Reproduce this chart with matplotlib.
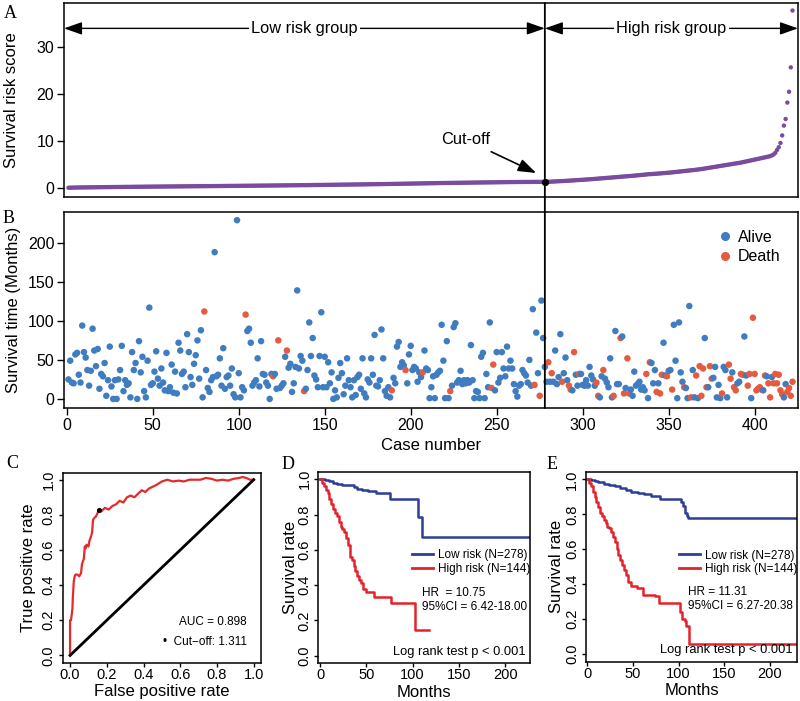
import matplotlib
matplotlib.use("Agg")
import matplotlib.pyplot as plt
from matplotlib.lines import Line2D
from matplotlib.patches import ConnectionPatch
from matplotlib.ticker import FormatStrFormatter

plt.rcParams["font.family"] = ["Liberation Sans", "DejaVu Sans"]

CUTOFF_CASE = 278
CUTOFF_SCORE = 1.311

# panel A: sorted risk score, cases 1..422
risk_score = [
    0.07, 0.08, 0.09, 0.10, 0.11, 0.11, 0.12, 0.13, 0.13, 0.14, 0.14, 0.15, 0.15, 0.16, 0.16, 0.17, 0.17, 0.18, 0.18,
    0.19, 0.19, 0.20, 0.20, 0.21, 0.21, 0.21, 0.22, 0.22, 0.23, 0.23, 0.23, 0.24, 0.24, 0.25, 0.25, 0.25, 0.26, 0.26, 0.27,
    0.27, 0.27, 0.28, 0.28, 0.28, 0.29, 0.29, 0.30, 0.30, 0.30, 0.31, 0.31, 0.31, 0.32, 0.32, 0.32, 0.33, 0.33, 0.33, 0.34,
    0.34, 0.34, 0.35, 0.35, 0.35, 0.36, 0.36, 0.36, 0.37, 0.37, 0.37, 0.38, 0.38, 0.38, 0.39, 0.39, 0.39, 0.40, 0.40, 0.40,
    0.41, 0.41, 0.41, 0.42, 0.42, 0.42, 0.43, 0.43, 0.43, 0.44, 0.44, 0.44, 0.45, 0.45, 0.45, 0.46, 0.46, 0.46, 0.47, 0.47,
    0.47, 0.48, 0.48, 0.48, 0.49, 0.49, 0.49, 0.50, 0.50, 0.50, 0.51, 0.51, 0.52, 0.52, 0.52, 0.53, 0.53, 0.53, 0.54, 0.54,
    0.55, 0.55, 0.55, 0.56, 0.56, 0.57, 0.57, 0.57, 0.58, 0.58, 0.59, 0.59, 0.59, 0.60, 0.60, 0.61, 0.61, 0.62, 0.62, 0.62,
    0.63, 0.63, 0.64, 0.64, 0.65, 0.65, 0.66, 0.66, 0.66, 0.67, 0.67, 0.68, 0.68, 0.69, 0.69, 0.70, 0.70, 0.71, 0.71, 0.72,
    0.72, 0.73, 0.73, 0.74, 0.74, 0.75, 0.75, 0.76, 0.76, 0.77, 0.77, 0.78, 0.78, 0.79, 0.79, 0.80, 0.81, 0.81, 0.82, 0.82,
    0.83, 0.83, 0.84, 0.84, 0.85, 0.86, 0.86, 0.87, 0.87, 0.88, 0.89, 0.89, 0.90, 0.90, 0.91, 0.92, 0.92, 0.93, 0.94, 0.94,
    0.95, 0.96, 0.96, 0.97, 0.98, 0.98, 0.99, 1.00, 1.00, 1.01, 1.02, 1.02, 1.03, 1.04, 1.04, 1.05, 1.06, 1.06, 1.07, 1.08,
    1.08, 1.09, 1.09, 1.10, 1.10, 1.11, 1.11, 1.12, 1.12, 1.13, 1.13, 1.14, 1.14, 1.15, 1.15, 1.16, 1.16, 1.17, 1.17, 1.18,
    1.18, 1.19, 1.19, 1.20, 1.20, 1.21, 1.21, 1.22, 1.22, 1.23, 1.23, 1.24, 1.24, 1.25, 1.25, 1.26, 1.26, 1.27, 1.27, 1.28,
    1.28, 1.28, 1.29, 1.29, 1.29, 1.29, 1.30, 1.30, 1.30, 1.30, 1.30, 1.31, 1.31, 1.31, 1.31, 1.31, 1.31, 1.31, 1.311,
    # high risk group
    1.32, 1.33, 1.35, 1.37, 1.39, 1.41, 1.43, 1.45, 1.47, 1.49, 1.51, 1.53, 1.55, 1.57, 1.60, 1.62, 1.64, 1.67, 1.69, 1.72, 1.74,
    1.77, 1.79, 1.82, 1.84, 1.87, 1.90, 1.92, 1.95, 1.98, 2.01, 2.04, 2.07, 2.10, 2.13, 2.16, 2.19, 2.22, 2.25, 2.28, 2.31,
    2.34, 2.37, 2.40, 2.43, 2.46, 2.49, 2.52, 2.55, 2.58, 2.61, 2.64, 2.68, 2.71, 2.75, 2.78, 2.82, 2.86, 2.90, 2.94, 2.96,
    2.98, 3.00, 3.03, 3.06, 3.09, 3.12, 3.15, 3.18, 3.21, 3.24, 3.27, 3.30, 3.34, 3.38, 3.42, 3.46, 3.50, 3.54, 3.58, 3.62,
    3.66, 3.70, 3.74, 3.78, 3.82, 3.86, 3.90, 3.95, 4.00, 4.05, 4.10, 4.16, 4.22, 4.28, 4.34, 4.40, 4.46, 4.52, 4.58, 4.64,
    4.70, 4.76, 4.82, 4.88, 4.94, 5.00, 5.06, 5.12, 5.18, 5.24, 5.30, 5.36, 5.42, 5.50, 5.58, 5.66, 5.74, 5.82, 5.90, 5.98,
    6.06, 6.14, 6.22, 6.30, 6.38, 6.46, 6.54, 6.62, 6.70, 6.80, 6.95, 7.15, 7.50, 8.10, 8.70,
    9.60, 11.2, 13.3, 14.7, 18.2, 20.5, 25.7, 37.8,
]

# panel B: survival time (months) in the same case order
low_time = [
    25, 49, 21, 20, 57, 59, 31, 21, 94, 60,
    53, 37, 17, 36, 90, 62, 42, 64, 13, 32,
    29, 46, 4, 24, 67, 16, 0, 24, 0, 25,
    37, 68, 10, 24, 18, 20, 2, 60, 37, 46,
    0, 74, 34, 54, 10, 2, 49, 117, 18, 20,
    35, 61, 26, 17, 39, 21, 11, 59, 10, 15,
    44, 8, 35, 7, 72, 62, 32, 35, 15, 83,
    60, 28, 18, 45, 56, 75, 26, 88, 2, 112,
    37, 14, 9, 24, 28, 188, 29, 31, 52, 17,
    65, 13, 28, 30, 17, 39, 6, 2, 229, 33,
    2, 15, 11, 108, 87, 90, 72, 17, 21, 24,
    52, 16, 74, 32, 31, 21, 17, 0, 32, 29,
    32, 13, 75, 14, 17, 20, 54, 62, 40, 45,
    9, 20, 41, 139, 39, 55, 49, 10, 13, 37,
    98, 55, 78, 30, 25, 15, 55, 111, 15, 54,
    15, 47, 20, 34, 0, 11, 2, 27, 46, 33,
    6, 17, 52, 24, 15, 2, 24, 5, 28, 31,
    13, 52, 7, 2, 25, 21, 52, 31, 82, 17,
    16, 24, 89, 52, 10, 4, 15, 2, 11, 27,
    20, 67, 73, 41, 47, 43, 37, 20, 57, 68,
    37, 41, 39, 22, 34, 28, 34, 62, 39, 37,
    1, 15, 29, 1, 31, 34, 36, 95, 49, 1,
    74, 1, 10, 17, 92, 97, 21, 24, 36, 19,
    24, 20, 24, 21, 69, 24, 1, 10, 9, 1,
    54, 59, 1, 32, 15, 98, 14, 44, 11, 60,
    21, 27, 60, 39, 29, 67, 39, 49, 39, 19,
    10, 3, 17, 19, 37, 33, 30, 21, 50, 17,
    115, 18, 85, 33, 4, 126, 78, 41,
]
high_time = [
    22, 47, 22, 33, 22, 62, 19, 28, 83, 22,
    33, 53, 24, 17, 12, 11, 60, 31, 17, 32,
    32, 18, 17, 24, 17, 41, 30, 25, 17, 21,
    4, 2, 29, 37, 26, 21, 15, 52, 2, 4,
    87, 19, 19, 78, 80, 7, 14, 52, 7, 12,
    4, 35, 17, 19, 22, 12, 15, 11, 32, 1,
    47, 46, 20, 37, 9, 20, 7, 31, 72, 30,
    29, 36, 37, 12, 95, 49, 1, 98, 34, 22,
    15, 14, 1, 119, 2, 37, 2, 30, 1, 42,
    4, 39, 78, 15, 15, 42, 26, 27, 41, 2,
    18, 1, 7, 41, 37, 2, 44, 26, 34, 15,
    11, 20, 22, 32, 31, 80, 30, 17, 32, 1,
    104, 32, 11, 13, 15, 12, 11, 30, 29, 20,
    2, 28, 20, 32, 20, 31, 11, 6, 2, 19,
    9, 14, 4, 22,
]
death_cases = [
    80, 104, 120, 123, 128, 138, 189, 197, 207, 223, 247, 248, 272, 275,
    280, 282, 288, 292, 293, 295, 298, 308, 309, 312, 318, 322, 324, 326, 327,
    337, 339, 343, 345, 346, 349, 352, 359, 363, 366, 368, 369, 370, 372, 374,
    375, 381, 385, 386, 388, 389, 392, 393, 396, 397, 399, 400, 401, 402, 403,
    404, 406, 408, 409, 411, 412, 413, 414, 415, 416, 419, 420, 421, 422,
]

# panel C: ROC curve
roc_fpr = [0, 0, 0.005, 0.01, 0.013, 0.015, 0.018, 0.02, 0.025, 0.03,
           0.04, 0.05, 0.06, 0.065, 0.075, 0.08, 0.085, 0.09, 0.10, 0.105,
           0.115, 0.12, 0.125, 0.13, 0.14, 0.15, 0.155, 0.17, 0.19, 0.21,
           0.23, 0.25, 0.27, 0.29, 0.31, 0.33, 0.35, 0.37, 0.39, 0.41,
           0.43, 0.45, 0.47, 0.50, 0.53, 0.56, 0.59, 0.62, 0.65, 0.68,
           0.71, 0.74, 0.77, 0.80, 0.83, 0.86, 0.89, 0.92, 0.94, 0.96, 0.98, 1.0]
roc_tpr = [0, 0.20, 0.20, 0.24, 0.27, 0.33, 0.38, 0.42, 0.45, 0.46,
           0.46, 0.45, 0.47, 0.52, 0.55, 0.62, 0.61, 0.63, 0.62, 0.65,
           0.68, 0.70, 0.77, 0.78, 0.79, 0.81, 0.83, 0.82, 0.84, 0.83,
           0.85, 0.86, 0.88, 0.87, 0.90, 0.91, 0.90, 0.92, 0.94, 0.93,
           0.95, 0.96, 0.97, 0.99, 1.00, 0.99, 0.995, 0.99, 1.0, 1.0,
           1.0, 1.01, 1.005, 0.995, 1.0, 0.995, 1.005, 1.01, 1.015, 1.01, 1.0, 1.0]
roc_cut = (0.155, 0.83)

# panel D: Kaplan-Meier, training set
d_low_t = [0, 5, 9, 14, 18, 24, 30, 36, 40, 45, 52, 60, 75, 106, 110, 227]
d_low_s = [1.0, 0.995, 0.99, 0.98, 0.975, 0.97, 0.965, 0.955, 0.945, 0.94, 0.935, 0.92, 0.887, 0.785, 0.675, 0.675]
d_high_t = [0, 2, 4, 6, 8, 10, 12, 14, 16, 18, 20, 22, 24, 26, 28, 30, 32, 34, 36, 38,
            40, 42, 44, 46, 50, 58, 76, 102, 118]
d_high_s = [1.0, 0.98, 0.96, 0.94, 0.92, 0.89, 0.86, 0.83, 0.81, 0.79, 0.76, 0.73, 0.72, 0.70, 0.67,
            0.63, 0.56, 0.54, 0.51, 0.48, 0.45, 0.43, 0.41, 0.38, 0.36, 0.33, 0.30, 0.147, 0.147]

# panel E: Kaplan-Meier, second set
e_low_t = [0, 4, 8, 12, 18, 24, 30, 36, 42, 48, 55, 62, 70, 80, 103, 105, 107, 109, 110, 229]
e_low_s = [1.0, 0.995, 0.99, 0.985, 0.975, 0.97, 0.96, 0.95, 0.94, 0.93, 0.92, 0.915, 0.905, 0.89,
           0.87, 0.85, 0.81, 0.79, 0.782, 0.782]
e_high_t = [0, 2, 4, 6, 8, 10, 12, 14, 16, 18, 20, 22, 24, 26, 28, 30, 32, 34, 36, 38,
            40, 42, 44, 48, 54, 61, 74, 78, 102, 104, 107, 108, 111, 229]
e_high_s = [1.0, 0.98, 0.96, 0.93, 0.90, 0.87, 0.84, 0.81, 0.79, 0.77, 0.75, 0.73, 0.72, 0.70, 0.67,
            0.64, 0.60, 0.57, 0.54, 0.51, 0.48, 0.45, 0.41, 0.39, 0.38, 0.34, 0.33, 0.29, 0.24,
            0.20, 0.19, 0.16, 0.06, 0.06]

PURPLE = "#7a4c9f"
ALIVE = "#3f7dc0"
DEATH = "#e65b3f"
ROC_RED = "#e42a2a"
KM_BLUE = "#2c3f95"
KM_RED = "#e3222b"

assert len(risk_score) == len(low_time) + len(high_time) == 422


def style_small(ax, xticks, yticks, xfmt=None):
    ax.set_xticks(xticks)
    ax.set_yticks(yticks)
    ax.yaxis.set_major_formatter(FormatStrFormatter("%.1f"))
    if xfmt:
        ax.xaxis.set_major_formatter(FormatStrFormatter(xfmt))
    ax.tick_params(direction="out", length=3, width=1, labelsize=10.5)
    ax.tick_params(axis="x", pad=0.5)
    ax.tick_params(axis="y", pad=2)
    for label in ax.get_yticklabels():
        label.set_rotation(90)
        label.set_va("center")
    for spine in ax.spines.values():
        spine.set_linewidth(1.1)


def draw_km(ax, curves, hr_lines, text_x, legend_y):
    for t, s, color in curves:
        ax.plot(t, s, drawstyle="steps-post", color=color, lw=1.8)
    handles = [Line2D([], [], color=KM_BLUE, lw=2), Line2D([], [], color=KM_RED, lw=2)]
    ax.legend(handles, ["Low risk (N=278)", "High risk (N=144)"], loc="center left",
              bbox_to_anchor=(0.44, legend_y), frameon=False, fontsize=8.5, handlelength=1.8,
              handletextpad=0.4, labelspacing=0.15, borderpad=0, borderaxespad=0)
    ax.text(text_x, 0.365, hr_lines[0], transform=ax.transAxes, fontsize=8.5, va="center")
    ax.text(text_x, 0.295, hr_lines[1], transform=ax.transAxes, fontsize=8.5, va="center")
    ax.text(0.98, 0.06, "Log rank test p < 0.001", transform=ax.transAxes, fontsize=9.3,
            va="center", ha="right")
    style_small(ax, [0, 50, 100, 150, 200], [0, 0.2, 0.4, 0.6, 0.8, 1.0])
    ax.set_xlabel("Months", fontsize=12, va="center")
    ax.set_ylabel("Survival rate", fontsize=12, va="center")
    ax.xaxis.set_label_coords(0.5, -0.15)


fig = plt.figure(figsize=(8, 7.01), dpi=100)

n_cases = len(risk_score)
cases = list(range(1, n_cases + 1))
survival = low_time + high_time
point_colors = [DEATH if c in death_cases else ALIVE for c in cases]
xlim_ab = (-1.6, 425.2)

# ---- A: risk score
ax_a = fig.add_axes([0.08, 0.719, 0.9175, 0.2767])
ax_a.scatter(cases, risk_score, s=10, color=PURPLE, edgecolors="none")
ax_a.scatter([CUTOFF_CASE], [CUTOFF_SCORE], s=18, color="black", zorder=4)
ax_a.set_xlim(*xlim_ab)
ax_a.set_ylim(-1.9, 39.4)
ax_a.set_xticks([])
ax_a.set_yticks([0, 10, 20, 30])
ax_a.tick_params(axis="y", direction="out", length=5, width=1, labelsize=11.5, pad=2)
ax_a.set_ylabel("Survival risk score", fontsize=12, va="center")
ax_a.yaxis.set_label_coords(-0.0713, 0.5)

arrow_y = 34
for x0, x1, label in [(xlim_ab[0], CUTOFF_CASE, "Low risk group"),
                      (CUTOFF_CASE, xlim_ab[1], "High risk group")]:
    ax_a.annotate("", xy=(x0, arrow_y), xytext=(x1, arrow_y),
                  arrowprops=dict(arrowstyle="<|-|>,head_length=1.0,head_width=0.35",
                                  color="black", lw=1, shrinkA=0, shrinkB=0, mutation_scale=11))
    ax_a.text((x0 + x1) / 2, arrow_y, label, ha="center", va="center", fontsize=11.8, zorder=5,
              bbox=dict(fc="white", ec="none", pad=1.5))

ax_a.annotate("Cut-off", xy=(273, 3.2), xytext=(232, 10.3), ha="center", va="center", fontsize=11.8,
              arrowprops=dict(arrowstyle="-|>,head_length=1.0,head_width=0.35", color="black",
                              lw=1.2, mutation_scale=11, shrinkA=3, shrinkB=0))

# ---- B: survival time / status
ax_b = fig.add_axes([0.08, 0.418, 0.9175, 0.2796])
ax_b.scatter(cases, survival, s=22, c=point_colors, edgecolors="none")
ax_b.set_xlim(*xlim_ab)
ax_b.set_ylim(-11.6, 239.5)
ax_b.set_xticks(range(0, 401, 50))
ax_b.set_yticks(range(0, 201, 50))
ax_b.tick_params(direction="out", length=5, width=1, labelsize=11.5, pad=2)
ax_b.set_xlabel("Case number", fontsize=12, va="center")
ax_b.xaxis.set_label_coords(0.5, -0.19)
ax_b.set_ylabel("Survival time (Months)", fontsize=12, va="center")
ax_b.yaxis.set_label_coords(-0.069, 0.5)
status_handles = [Line2D([], [], marker="o", ls="none", color=ALIVE, markersize=5.5),
                  Line2D([], [], marker="o", ls="none", color=DEATH, markersize=5.5)]
ax_b.legend(status_handles, ["Alive", "Death"], loc="upper right", frameon=False, fontsize=11.5,
            handletextpad=0.3, labelspacing=0.3, borderaxespad=0.7, handlelength=1.0)

for ax in (ax_a, ax_b):
    for spine in ax.spines.values():
        spine.set_linewidth(1.1)

cut_line = ConnectionPatch(xyA=(CUTOFF_CASE, 39.4), coordsA="data", axesA=ax_a,
                           xyB=(CUTOFF_CASE, -11.6), coordsB="data", axesB=ax_b,
                           color="black", lw=1.3)
fig.add_artist(cut_line)

# ---- C: ROC
ax_c = fig.add_axes([0.0784, 0.0538, 0.2479, 0.2719])
ax_c.plot(roc_fpr, roc_tpr, color=ROC_RED, lw=1.6)
ax_c.plot([0, 1], [0, 1], color="black", lw=2)
ax_c.scatter([roc_cut[0]], [roc_cut[1]], s=7, color="black", zorder=4)
ax_c.text(0.78, 0.19, "AUC = 0.898", ha="center", va="center", fontsize=8.5)
ax_c.text(0.735, 0.077, "\u2022  Cut\u2212off: 1.311", ha="center", va="center", fontsize=8.5)
ax_c.set_xlim(-0.04, 1.04)
ax_c.set_ylim(-0.045, 1.04)
style_small(ax_c, [0, 0.2, 0.4, 0.6, 0.8, 1.0], [0, 0.2, 0.4, 0.6, 0.8, 1.0], xfmt="%.1f")
ax_c.set_xlabel("False positive rate", fontsize=12, va="center")
ax_c.xaxis.set_label_coords(0.5, -0.15)
ax_c.set_ylabel("True positive rate", fontsize=12, va="center")
ax_c.yaxis.set_label_coords(-0.175, 0.5)

# ---- D / E: survival curves
ax_d = fig.add_axes([0.398, 0.0538, 0.2646, 0.2733])
draw_km(ax_d, [(d_low_t, d_low_s, KM_BLUE), (d_high_t, d_high_s, KM_RED)],
        ["HR  = 10.75", "95%CI = 6.42-18.00"], 0.488, 0.527)
ax_d.set_xlim(-2, 227)
ax_d.set_ylim(-0.043, 1.043)
ax_d.yaxis.set_label_coords(-0.134, 0.5)

ax_e = fig.add_axes([0.7325, 0.056, 0.2637, 0.271])
draw_km(ax_e, [(e_low_t, e_low_s, KM_BLUE), (e_high_t, e_high_s, KM_RED)],
        ["HR = 11.31", "95%CI = 6.27-20.38"], 0.483, 0.523)
ax_e.set_xlim(-1.5, 229.6)
ax_e.set_ylim(-0.044, 1.044)
ax_e.yaxis.set_label_coords(-0.139, 0.5)

# panel letters
for letter, x, y in [("A", 0.0125, 0.981), ("B", 0.0104, 0.6886), ("C", 0.015, 0.3395),
                     ("D", 0.3604, 0.3367), ("E", 0.6896, 0.3367)]:
    fig.text(x, y, letter, ha="center", va="center", fontsize=13, family="Liberation Serif")

fig.savefig("out.png", dpi=100)
